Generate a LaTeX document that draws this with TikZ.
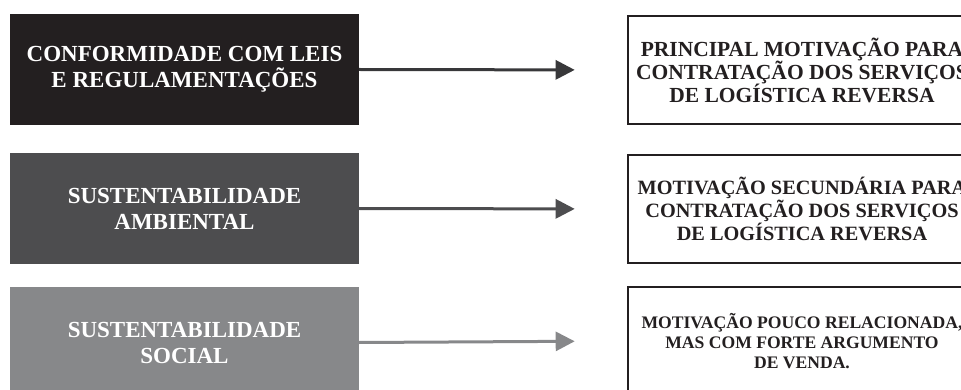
\documentclass[tikz,border=0pt]{standalone}
\usepackage{fontspec}
\setmainfont{Liberation Serif}
\usetikzlibrary{arrows.meta}
\definecolor{inkblack}{HTML}{231F20}
\definecolor{darkgrey}{HTML}{4D4D4F}
\definecolor{midgrey}{HTML}{87888A}
\definecolor{arrowdark}{HTML}{38383A}
\tikzset{
  cause/.style={rectangle, minimum width=349pt, minimum height=111pt, inner sep=0pt,
    align=center, text=white, font=\bfseries\fontsize{23}{26}\selectfont},
  effect/.style={rectangle, draw=inkblack, line width=2.6pt, fill=white,
    minimum width=348pt, minimum height=108pt, inner sep=0pt,
    align=center, text=inkblack, font=\bfseries\fontsize{21.5}{23}\selectfont},
  link/.style={line width=3pt, shorten >=52pt,
    -{Triangle[length=19pt,width=19pt]}}
}
\begin{document}
\begin{tikzpicture}[x=1pt,y=-1pt]
  \useasboundingbox (0,0) rectangle (961,390);
  \clip (0,0) rectangle (961,390);

  % causes (left column)
  \node[cause, fill=inkblack] (c1) at (184.5,69.5)
    {CONFORMIDADE COM LEIS\\E REGULAMENTAÇÕES};
  \node[cause, fill=darkgrey] (c2) at (184.5,208.5)
    {SUSTENTABILIDADE\\AMBIENTAL};
  \node[cause, fill=midgrey] (c3) at (184.5,342.5)
    {SUSTENTABILIDADE\\SOCIAL};

  % effects (right column)
  \node[effect] (e1) at (802,70)
    {PRINCIPAL MOTIVAÇÃO PARA\\CONTRATAÇÃO DOS SERVIÇOS\\DE LOGÍSTICA REVERSA};
  \node[effect, font=\bfseries\fontsize{20.3}{23}\selectfont] (e2) at (802,209)
    {MOTIVAÇÃO SECUNDÁRIA PARA\\CONTRATAÇÃO DOS SERVIÇOS\\DE LOGÍSTICA REVERSA};
  \node[effect, font=\bfseries\fontsize{17.6}{20}\selectfont] (e3) at (802,341)
    {MOTIVAÇÃO POUCO RELACIONADA,\\MAS COM FORTE ARGUMENTO\\DE VENDA.};

  % connectors
  \draw[link, draw=arrowdark, fill=arrowdark] (c1.east) -- (e1.west);
  \draw[link, draw=darkgrey, fill=darkgrey] (c2.east) -- (e2.west);
  \draw[link, draw=midgrey, fill=midgrey] (c3.east) -- (e3.west);
\end{tikzpicture}
\end{document}
